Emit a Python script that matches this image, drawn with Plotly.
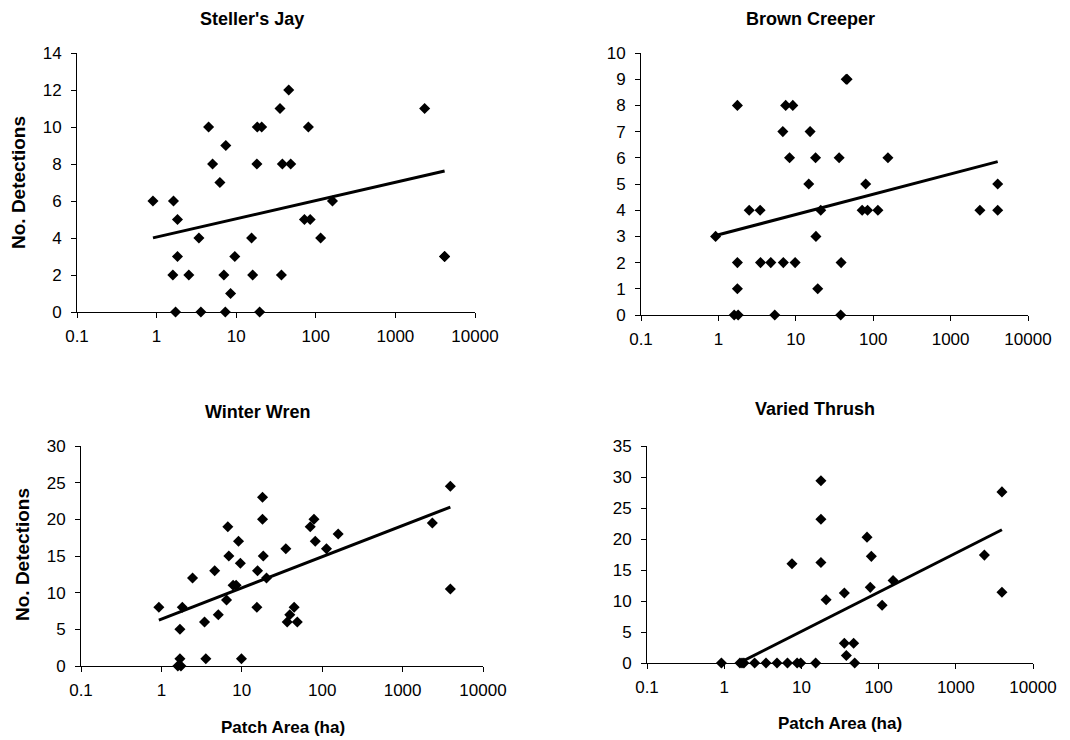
import numpy as np
import plotly.graph_objects as go

# ---------------- data ----------------
species = ["Steller's Jay", "Brown Creeper", "Winter Wren", "Varied Thrush"]

jay_area = [0.9, 1.63, 1.83, 1.83, 1.6, 1.73, 2.54, 3.4, 3.6, 4.5, 5.05, 6.24, 7.4, 7.0, 7.3, 8.5,
            9.6, 15.6, 16.1, 18.2, 18.4, 20.9, 19.7, 35.5, 38, 37, 45.7, 48.4, 72, 85, 80.7, 115,
            162, 2330, 4150, 4150]
jay_det = [6, 6, 5, 3, 2, 0, 2, 4, 0, 10, 8, 7, 9, 2, 0, 1,
           3, 4, 2, 8, 10, 10, 0, 11, 8, 2, 12, 8, 5, 5, 10, 4,
           6, 11, 3, 3]

creeper_area = [0.92, 1.76, 1.76, 1.76, 1.6, 1.8, 2.5, 3.46, 3.5, 4.75, 5.35, 6.8, 6.9, 7.4, 9.15,
                8.3, 9.8, 14.7, 15.3, 18, 18.2, 19.2, 21, 36.3, 38.5, 38, 44.8, 46, 72, 80, 84.5,
                115, 155, 2390, 4060, 4060]
creeper_det = [3, 8, 2, 1, 0, 0, 4, 4, 2, 2, 0, 7, 2, 8, 8,
               6, 2, 5, 7, 6, 3, 1, 4, 6, 2, 0, 9, 9, 4, 5, 4,
               4, 6, 4, 5, 4]

wren_area = [0.93, 1.7, 1.82, 1.7, 1.6, 1.75, 2.44, 3.44, 3.57, 4.6, 5.1, 6.46, 6.7, 6.9, 7.8, 8.5,
             9.1, 9.6, 9.9, 15.4, 15.7, 18.1, 18.1, 18.5, 20.3, 35.3, 36.7, 39.5, 44.8, 49, 71, 79,
             82, 113, 158, 2344, 3926, 3926]
wren_det = [8, 5, 8, 1, 0, 0, 12, 6, 1, 13, 7, 9, 19, 15, 11, 11,
            17, 14, 1, 8, 13, 23, 20, 15, 12, 16, 6, 7, 8, 6, 19, 20,
            17, 16, 18, 19.5, 24.5, 10.5]

thrush_area = [0.92, 1.6, 1.7, 1.8, 2.48, 3.48, 4.83, 6.6, 7.55, 8.8, 9.8, 15.3, 17.9, 17.9, 17.9,
               20.9, 36, 36, 38.2, 47.5, 49, 70.8, 80.5, 78, 111, 154, 2345, 3960, 3960]
thrush_det = [0, 0, 0, 0, 0, 0, 0, 0, 16, 0, 0, 0, 29.4, 23.2, 16.2,
              10.2, 11.3, 3.2, 1.2, 3.2, 0, 20.3, 17.2, 12.2, 9.3, 13.3, 17.4, 27.6, 11.4]

# logarithmic trend lines: y = a + b * log10(area)
trend_intercept = [4.05, 3.06, 6.40, -1.21]
trend_slope = [0.986, 0.774, 4.25, 6.31]

x_tick_vals = [0.1, 1, 10, 100, 1000, 10000]
x_tick_text = ["0.1", "1", "10", "100", "1000", "10000"]
y_max = [14, 10, 30, 35]
y_step = [2, 1, 5, 5]

x_title = "Patch Area (ha)"
y_title = "No. Detections"

# ---------------- figure ----------------
# the page places the plot 8 px in from the top-left corner of the window
OFF = 8
W, H = 1070 - OFF, 740 - OFF
FONT = "Liberation Sans, Arial, sans-serif"
TICK_SIZE = 17


def fx(px):
    return (px - OFF) / W


def fy(py):
    return 1 - (py - OFF) / H


areas = [jay_area, creeper_area, wren_area, thrush_area]
dets = [jay_det, creeper_det, wren_det, thrush_det]

# plot boxes in window pixels: (left, right, top, bottom)
boxes = [(77, 475, 53, 312), (641, 1028, 53, 315), (81, 483, 446, 666), (647, 1033, 446, 663)]

fig = go.Figure()
layout = dict(width=W, height=H, margin=dict(l=0, r=0, t=0, b=0, autoexpand=False),
              paper_bgcolor="white", plot_bgcolor="white", showlegend=False,
              template="none", font=dict(family=FONT, color="black"))

for i in range(4):
    sfx = "" if i == 0 else str(i + 1)
    xa, ya = "x" + sfx, "y" + sfx
    a = np.array(areas[i], dtype=float)
    d = np.array(dets[i], dtype=float)
    xl = np.logspace(np.log10(a.min()), np.log10(a.max()), 60)
    fig.add_trace(go.Scatter(x=xl, y=trend_intercept[i] + trend_slope[i] * np.log10(xl),
                             mode="lines", line=dict(color="black", width=3),
                             xaxis=xa, yaxis=ya, hoverinfo="skip"))
    fig.add_trace(go.Scatter(x=a, y=d, mode="markers", cliponaxis=False,
                             marker=dict(symbol="diamond", size=8.5, color="black",
                                         line=dict(width=0)),
                             xaxis=xa, yaxis=ya, name=species[i]))
    l, r, t, b = boxes[i]
    layout["xaxis" + sfx] = dict(
        type="log", range=[-1, 4], domain=[fx(l), fx(r)], anchor=ya, automargin=False,
        tickmode="array", tickvals=x_tick_vals, ticktext=x_tick_text, ticks="outside",
        ticklen=5, tickcolor="black", showline=True, linecolor="black", linewidth=1,
        showgrid=False, zeroline=False, tickfont=dict(size=TICK_SIZE, family=FONT),
        ticklabelstandoff=4)
    layout["yaxis" + sfx] = dict(
        range=[0, y_max[i]], domain=[fy(b), fy(t)], anchor=xa, automargin=False,
        tickmode="linear", dtick=y_step[i], tick0=0, ticks="outside", ticklen=5,
        tickcolor="black", showline=True, linecolor="black", linewidth=1, showgrid=False,
        zeroline=False, tickfont=dict(size=TICK_SIZE, family=FONT), ticklabelstandoff=6)

fig.update_layout(**layout)

# titles and axis titles (window pixel positions -> paper coordinates)
title_pos = [(252, 19), (810, 19), (258, 412), (815, 409)]
for i, (px, py) in enumerate(title_pos):
    fig.add_annotation(text="<b>%s</b>" % species[i], x=fx(px), y=fy(py), xref="paper",
                       yref="paper", showarrow=False, xanchor="center", yanchor="middle",
                       font=dict(size=18, family=FONT))
for px, py in [(283, 727), (840, 723)]:
    fig.add_annotation(text="<b>%s</b>" % x_title, x=fx(px), y=fy(py), xref="paper",
                       yref="paper", showarrow=False, xanchor="center", yanchor="middle",
                       font=dict(size=17, family=FONT))
for px, py in [(18, 183), (22, 555)]:
    fig.add_annotation(text="<b>%s</b>" % y_title, x=fx(px), y=fy(py), xref="paper",
                       yref="paper", showarrow=False, xanchor="center", yanchor="middle",
                       textangle=-90, font=dict(size=19, family=FONT))

fig.write_html("out.html")
